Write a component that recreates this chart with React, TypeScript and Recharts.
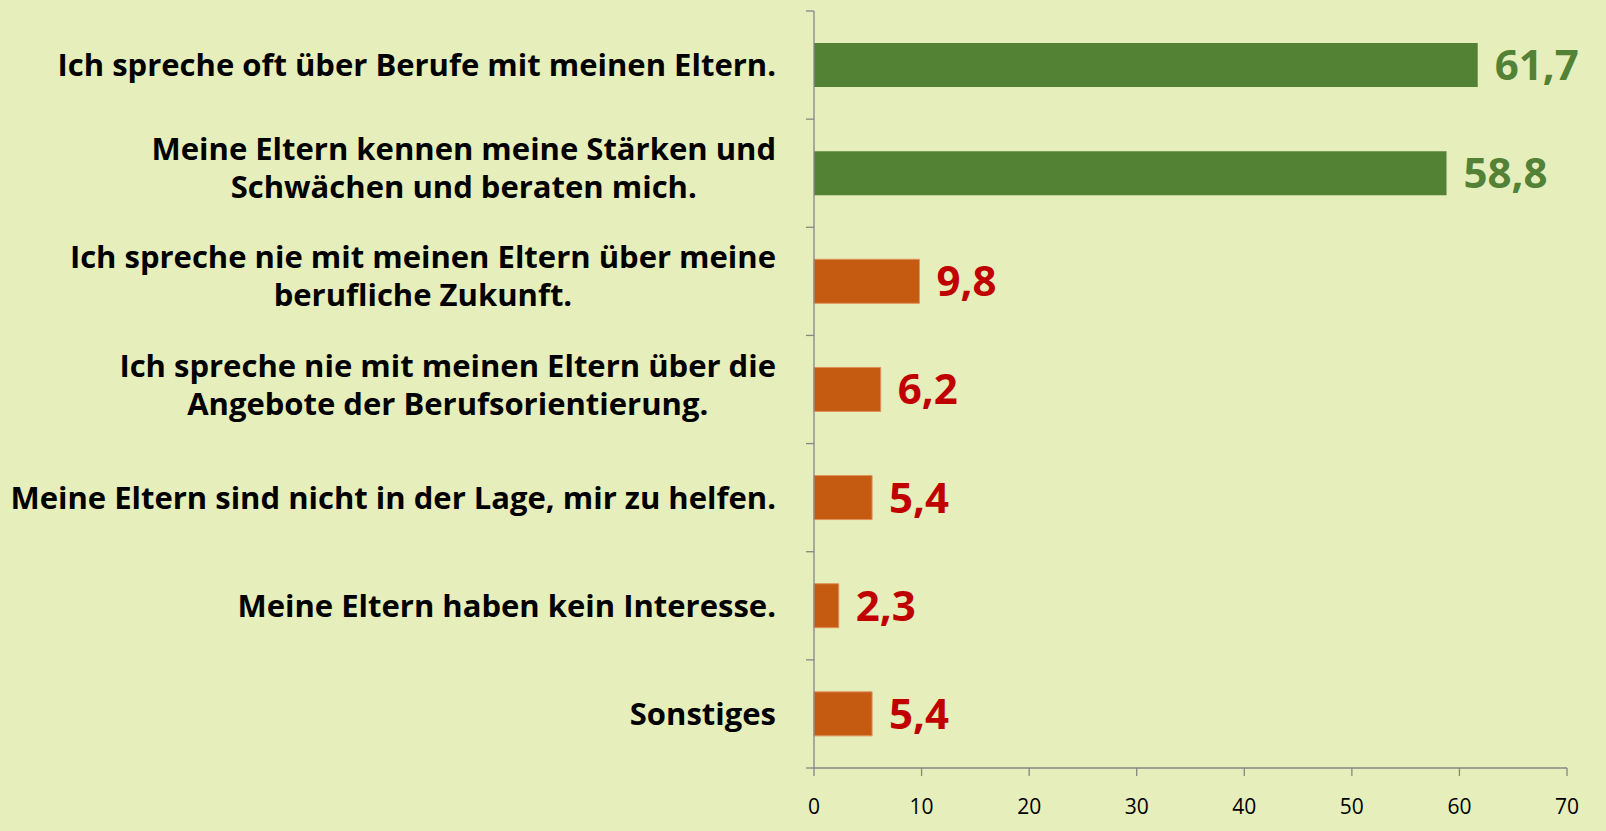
import React from "react";
import { BarChart, Bar, XAxis, YAxis, Cell, LabelList } from "recharts";

const categories = [
  "Ich spreche oft über Berufe mit meinen Eltern.",
  "Meine Eltern kennen meine Stärken und|Schwächen und beraten mich.",
  "Ich spreche nie mit meinen Eltern über meine|berufliche Zukunft.",
  "Ich spreche nie mit meinen Eltern über die|Angebote der Berufsorientierung.",
  "Meine Eltern sind nicht in der Lage, mir zu helfen.",
  "Meine Eltern haben kein Interesse.",
  "Sonstiges",
];
const values = [61.7, 58.8, 9.8, 6.2, 5.4, 2.3, 5.4];
const xTicks = [0, 10, 20, 30, 40, 50, 60, 70];
const barColors = ["#548235", "#548235", "#C55A11", "#C55A11", "#C55A11", "#C55A11", "#C55A11"];
const labelColors = ["#538135", "#538135", "#C00000", "#C00000", "#C00000", "#C00000", "#C00000"];

const data = categories.map((c, i) => ({ name: c, value: values[i] }));

const W = 1606;
const H = 831;
const M = { top: 11, right: 39, bottom: 23, left: 0 };
const XH = 40;
const YW = 814;
const PLOT_H = H - M.top - M.bottom - XH;
const BAND = PLOT_H / categories.length;
const FONT = "'Open Sans', 'Noto Sans', sans-serif";
const CAT_FS = 31;

let ctx: CanvasRenderingContext2D | null = null;
const measure = (s: string) => {
  if (!ctx) {
    const c = document.createElement("canvas");
    ctx = c.getContext("2d");
  }
  if (!ctx) return s.length * CAT_FS * 0.55;
  ctx.font = `700 ${CAT_FS}px 'Open Sans', 'Noto Sans', sans-serif`;
  return ctx.measureText(s).width;
};

const CatTick = (props: any) => {
  const { x, y, payload, index } = props;
  const lines = String(payload.value).split("|");
  const lh = 38;
  const shift = lines.length > 1 ? -5 : 0;
  const start = y + shift - ((lines.length - 1) * lh) / 2 + 11;
  const half = BAND / 2;
  const right = x - 38;
  const maxW = Math.max(...lines.map(measure));
  const cx = right - maxW / 2;
  return (
    <g>
      <line x1={x - 8} x2={x} y1={y - half} y2={y - half} stroke="#868686" strokeWidth={1.3} />
      {index === categories.length - 1 && (
        <line x1={x - 8} x2={x} y1={y + half} y2={y + half} stroke="#868686" strokeWidth={1.3} />
      )}
      <text textAnchor="middle" fontFamily={FONT} fontWeight={700} fontSize={CAT_FS} fill="#000">
        {lines.map((l, i) => (
          <tspan key={i} x={cx} y={start + i * lh}>
            {l}
          </tspan>
        ))}
      </text>
    </g>
  );
};

const XTick = (props: any) => {
  const { x, y, payload } = props;
  return (
    <text x={x} y={y + 36} textAnchor="middle" fontFamily={FONT} fontSize={21} fill="#000">
      {payload.value}
    </text>
  );
};

const ValueLabel = (props: any) => {
  const { x, y, width, height, value, index } = props;
  return (
    <text
      x={x + width + 17}
      y={y + height / 2 + 15}
      textAnchor="start"
      fontFamily={FONT}
      fontWeight={700}
      fontSize={42}
      fill={labelColors[index]}
    >
      {Number(value).toFixed(1).replace(".", ",")}
    </text>
  );
};

export default function App() {
  return (
    <div style={{ position: "absolute", left: 0, top: 0, width: W, height: H, background: "#E6EEBB" }}>
      <BarChart width={W} height={H} data={data} layout="vertical" margin={M}>
        <XAxis
          type="number"
          domain={[0, 70]}
          ticks={xTicks}
          height={XH}
          stroke="#868686"
          tickSize={8}
          tick={<XTick />}
          axisLine={{ stroke: "#868686", strokeWidth: 1.3 }}
          tickLine={{ stroke: "#868686", strokeWidth: 1.3 }}
          interval={0}
        />
        <YAxis
          type="category"
          dataKey="name"
          width={YW}
          tickLine={false}
          tickSize={0}
          tickMargin={0}
          axisLine={{ stroke: "#868686", strokeWidth: 1.3 }}
          tick={<CatTick />}
          interval={0}
        />
        <Bar dataKey="value" barSize={44} isAnimationActive={false}>
          {data.map((d, i) => (
            <Cell key={i} fill={barColors[i]} stroke={i > 1 ? "#E0925A" : "none"} strokeWidth={1} />
          ))}
          <LabelList dataKey="value" content={<ValueLabel />} />
        </Bar>
      </BarChart>
    </div>
  );
}
